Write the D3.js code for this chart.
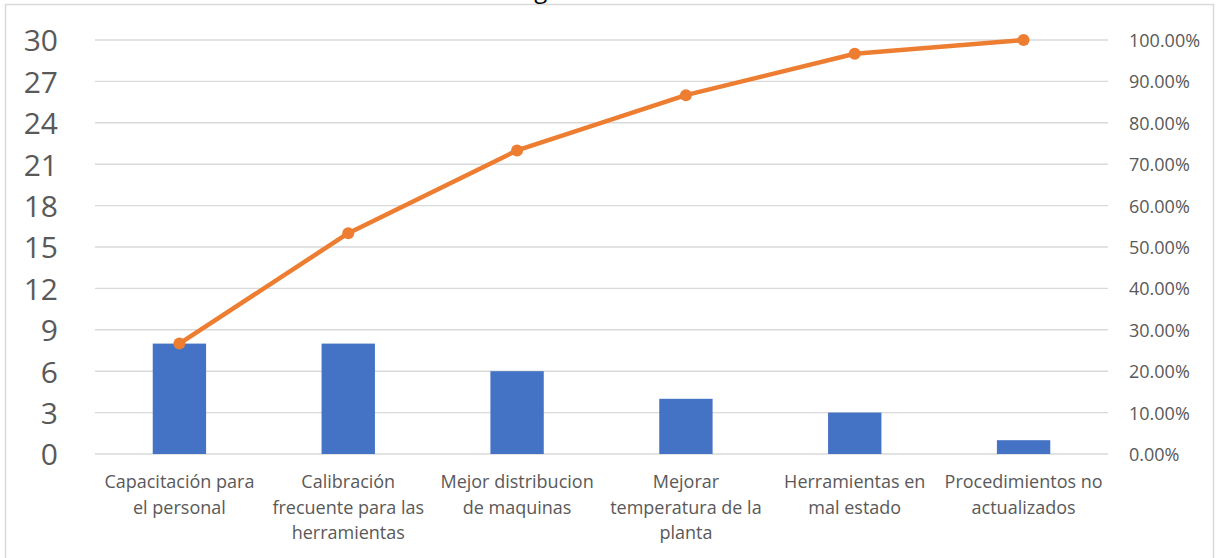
<!DOCTYPE html>
<html>
<head>
<meta charset="utf-8">
<script src="https://cdn.jsdelivr.net/npm/d3@7"></script>
<style>
  html, body { margin: 0; padding: 0; background: #fff; }
  svg { display: block; }
  text { font-family: "Open Sans", "DejaVu Sans", sans-serif; fill: #595959; }
</style>
</head>
<body>
<svg id="chart" width="1218" height="558"></svg>
<script>
// ---- data ----
const title = "Diagrama de Pareto";
const categories = [
  "Capacitación para el personal",
  "Calibración frecuente para las herramientas",
  "Mejor distribucion de maquinas",
  "Mejorar temperatura de la planta",
  "Herramientas en mal estado",
  "Procedimientos no actualizados"
];
const categoryLines = [
  ["Capacitación para", "el personal"],
  ["Calibración", "frecuente para las", "herramientas"],
  ["Mejor distribucion", "de maquinas"],
  ["Mejorar", "temperatura de la", "planta"],
  ["Herramientas en", "mal estado"],
  ["Procedimientos no", "actualizados"]
];
const frequency = [8, 8, 6, 4, 3, 1];
const cumulativePct = [0.2667, 0.5333, 0.7333, 0.8667, 0.9667, 1.0];
const leftTicks = [0, 3, 6, 9, 12, 15, 18, 21, 24, 27, 30];
const rightTicks = [0, 0.1, 0.2, 0.3, 0.4, 0.5, 0.6, 0.7, 0.8, 0.9, 1.0];

// ---- layout ----
const svg = d3.select("#chart");
const plot = { left: 95, right: 1108, top: 40, bottom: 454 };

// chart border
svg.append("rect")
  .attr("x", 5.5).attr("y", 4.5)
  .attr("width", 1208).attr("height", 600)
  .attr("fill", "#fff").attr("stroke", "#D9D9D9").attr("stroke-width", 1.5);

// title: clipped by the top edge in the reference (only the descender shows)
svg.append("text")
  .attr("x", 609).attr("y", -2)
  .attr("text-anchor", "middle")
  .style("font-size", "24px").style("fill", "#000")
  .text(title);

const x = d3.scaleBand().domain(categories).range([plot.left, plot.right]).paddingInner(0.684).paddingOuter(0.342);
const xc = d3.scaleBand().domain(categories).range([plot.left, plot.right]);
const yL = d3.scaleLinear().domain([0, 30]).range([plot.bottom, plot.top]);
const yR = d3.scaleLinear().domain([0, 1]).range([plot.bottom, plot.top]);

// gridlines
svg.append("g").selectAll("line").data(leftTicks).join("line")
  .attr("x1", plot.left).attr("x2", plot.right)
  .attr("y1", d => yL(d)).attr("y2", d => yL(d))
  .attr("stroke", "#D9D9D9").attr("stroke-width", 1.4);

// left axis
const gL = svg.append("g").attr("transform", `translate(${plot.left - 37},0)`)
  .call(d3.axisLeft(yL).tickValues(leftTicks).tickSize(0).tickPadding(0).tickFormat(d3.format("d")));
gL.select(".domain").remove();
gL.selectAll("text").style("font-size", "30px").style("fill", "#595959").attr("dy", "0.36em");

// right axis
const gR = svg.append("g").attr("transform", `translate(${plot.right + 21},0)`)
  .call(d3.axisRight(yR).tickValues(rightTicks).tickSize(0).tickPadding(0).tickFormat(d3.format(".2%")));
gR.select(".domain").remove();
gR.selectAll("text").style("font-size", "18px").style("fill", "#595959").attr("dy", "0.36em");

// bars
svg.append("g").selectAll("rect").data(frequency).join("rect")
  .attr("x", (d, i) => x(categories[i]))
  .attr("width", x.bandwidth())
  .attr("y", d => yL(d))
  .attr("height", d => yL(0) - yL(d))
  .attr("fill", "#4472C4");

// category labels
const lab = svg.append("g").selectAll("text").data(categoryLines).join("text")
  .attr("text-anchor", "middle")
  .attr("x", (d, i) => xc(categories[i]) + xc.bandwidth() / 2)
  .style("font-size", "18px").style("fill", "#595959");
lab.each(function(lines) {
  const t = d3.select(this);
  const cx = t.attr("x");
  lines.forEach((ln, j) => {
    t.append("tspan").attr("x", cx).attr("y", 488 + j * 25.7).text(ln);
  });
});

// cumulative line
const cx = (d, i) => xc(categories[i]) + xc.bandwidth() / 2;
const line = d3.line().x((d, i) => cx(d, i)).y(d => yR(d));
svg.append("path").datum(cumulativePct)
  .attr("d", line).attr("fill", "none")
  .attr("stroke", "#ED7D31").attr("stroke-width", 4.5).attr("stroke-linejoin", "round").attr("stroke-linecap", "round");
svg.append("g").selectAll("circle").data(cumulativePct).join("circle")
  .attr("cx", (d, i) => cx(d, i)).attr("cy", d => yR(d)).attr("r", 6)
  .attr("fill", "#ED7D31");
</script>
</body>
</html>
